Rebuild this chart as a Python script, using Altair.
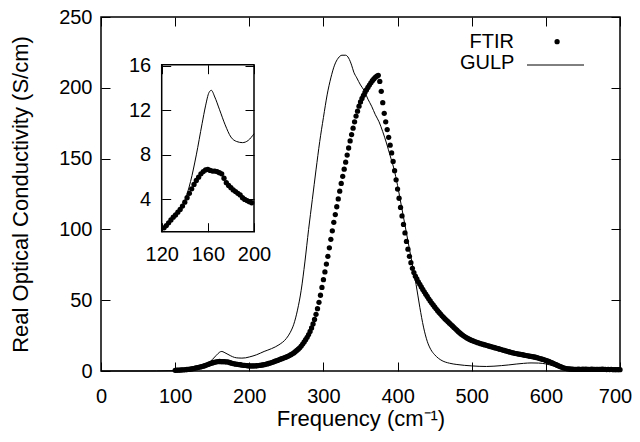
import altair as alt
import pandas as pd

# ---------------- data ----------------
ftir_freq = list(range(100, 702, 2))
ftir_vals = [
    0.5, 0.55, 0.6, 0.65, 0.7, 0.8, 0.85, 0.95, 1.05, 1.15,
    1.25, 1.45, 1.65, 1.9, 2.15, 2.4, 2.6, 2.85, 3.1, 3.4,
    3.75, 4.15, 4.55, 4.95, 5.35, 5.7, 6.0, 6.3, 6.5, 6.65,
    6.7, 6.6, 6.55, 6.55, 6.5, 6.4, 6.3, 5.9, 5.5, 5.25,
    5.05, 4.85, 4.7, 4.55, 4.4, 4.15, 4.0, 3.9, 3.8, 3.7,
    3.6, 3.55, 3.55, 3.55, 3.6, 3.7, 3.8, 3.95, 4.1, 4.3,
    4.5, 4.75, 5.0, 5.3, 5.6, 5.95, 6.3, 6.7, 7.1, 7.5,
    7.9, 8.3, 8.7, 9.1, 9.5, 9.9, 10.4, 10.9, 11.5, 12.1,
    12.8, 13.6, 14.5, 15.4, 16.4, 17.6, 19.0, 20.5, 22.1, 23.8,
    25.7, 27.9, 30.4, 33.2, 36.4, 40.0, 44.0, 48.5, 53.5, 59.0,
    64.5, 70, 75.5, 81, 87, 93, 99, 105, 110.5, 116,
    121.5, 127, 132.5, 137.5, 142.5, 147.5, 152.5, 157.5, 162.5, 167,
    171.5, 176, 180, 183.5, 187, 190, 192.5, 194.7, 196.7, 198.5,
    200.2, 201.9, 203.5, 205, 206.3, 207.4, 208.2, 208.8, 204.5, 197.5,
    189.5, 182, 176, 170.5, 165, 159.5, 154, 148, 141.5, 135,
    128.5, 122, 115.5, 109.5, 103.5, 97.5, 91.5, 86, 81, 76.5,
    72.5, 69.5, 67, 65, 63, 61.2, 59.4, 57.6, 55.9, 54.2,
    52.6, 51, 49.5, 48, 46.6, 45.2, 43.9, 42.6, 41.4, 40.2,
    39.0, 37.9, 36.8, 35.8, 34.8, 33.8, 32.8, 31.8, 30.8, 29.8,
    28.8, 27.8, 26.9, 26.0, 25.2, 24.5, 23.8, 23.2, 22.6, 22.1,
    21.6, 21.2, 20.8, 20.4, 20.0, 19.7, 19.3, 19.0, 18.7, 18.4,
    18.1, 17.8, 17.5, 17.2, 16.9, 16.6, 16.3, 16.0, 15.7, 15.4,
    15.1, 14.8, 14.5, 14.2, 13.9, 13.6, 13.3, 13.0, 12.8, 12.5,
    12.3, 12.1, 11.9, 11.7, 11.5, 11.3, 11.1, 10.9, 10.7, 10.5,
    10.3, 10.1, 9.9, 9.7, 9.4, 9.1, 8.8, 8.5, 8.2, 7.9,
    7.5, 7.1, 6.7, 6.3, 5.9, 5.4, 4.9, 4.4, 3.9, 3.4,
    3.0, 2.6, 2.2, 1.9, 1.7, 1.5, 1.4, 1.3, 1.3, 1.2,
    1.2, 1.2, 1.3, 1.2, 1.2, 1.3, 1.2, 1.3, 1.2, 1.1,
    1.2, 1.3, 1.2, 1.1, 1.2, 1.2, 1.1, 1.2, 1.3, 1.2,
    1.1, 1.0, 1.1, 1.0, 1.1, 1.0, 0.9, 1.0, 0.9, 1.0,
    0.9,
]

gulp_freq = [0, 50, 100, 110, 120, 130, 135, 140, 145, 150,
             155, 158, 161, 163, 166, 170, 175, 180, 185, 190,
             195, 200, 210, 220, 230, 240, 250, 255, 260, 265,
             270, 275, 280, 285, 290, 295, 300, 305, 310, 315,
             320, 325, 330, 334, 338, 341, 345, 350, 355, 360,
             365, 370, 375, 380, 385, 390, 395, 400, 405, 410,
             415, 420, 425, 430, 435, 440, 445, 450, 455, 460,
             470, 480, 490, 500, 510, 520, 530, 540, 550, 560,
             570, 580, 590, 600, 610, 620, 630, 640, 650, 660,
             670, 680, 690, 700]
gulp_vals = [0, 0, 0.3, 0.6, 1.2, 2.3, 3.0, 3.9, 5.6, 8.0,
             10.8, 12.4, 13.6, 13.8, 13.2, 12.1, 10.7, 9.6, 9.2, 9.1,
             9.3, 9.9, 11.5, 13.8, 15.8, 18.5, 23, 27, 33, 43,
             57, 77, 100, 121, 142, 162, 179, 195, 207, 216,
             221, 223, 223, 221, 216, 211, 207, 202, 198, 192,
             187, 181, 176, 169, 161, 152, 143, 131, 117, 103,
             89, 75, 61, 45, 31, 21, 15, 11.5, 9, 7.3,
             5.5, 4.6, 4, 3.6, 3.3, 3.2, 3.4, 3.8, 4.3, 4.9,
             5.4, 5.7, 5.6, 5.0, 3.5, 1.8, 0.6, 0.2, 0.1, 0.1,
             0.1, 0.1, 0.1, 0.1]

x_domain = [0, 700]
y_domain = [0, 250]
x_ticks = [0, 100, 200, 300, 400, 500, 600, 700]
y_ticks = [0, 50, 100, 150, 200, 250]

inset_x_domain = [120, 200]
inset_y_domain = [1.1, 16.1]
inset_x_ticks = [120, 160, 200]
inset_y_ticks = [4, 8, 12, 16]

series_names = ["FTIR", "GULP"]

# ---------------- layout (pixels) ----------------
W, H = 519, 354
TICK = 9
inset_x_range = [60.7, 153.0]
inset_y_range = [214.7, 47.7]
FONT = "Liberation Sans"
FS = 20
TFS = 22
DOT = 28

ftir_df = pd.DataFrame({"f": ftir_freq, "v": ftir_vals, "s": series_names[0]})
gulp_df = pd.DataFrame({"f": gulp_freq, "v": gulp_vals, "s": series_names[1]})
inset_ftir_df = ftir_df[(ftir_df.f > inset_x_domain[0]) & (ftir_df.f < inset_x_domain[1])]
inset_gulp_df = gulp_df[(gulp_df.f >= inset_x_domain[0]) & (gulp_df.f <= inset_x_domain[1])]
frame_df = pd.DataFrame({"x0": [inset_x_domain[0]], "x1": [inset_x_domain[1]],
                         "y0": [inset_y_domain[0]], "y1": [inset_y_domain[1]]})

xs = alt.Scale(domain=x_domain, nice=False, zero=False)
ys = alt.Scale(domain=y_domain, nice=False, zero=False)
ixs = alt.Scale(domain=inset_x_domain, range=inset_x_range, nice=False, zero=False)
iys = alt.Scale(domain=inset_y_domain, range=inset_y_range, nice=False, zero=False)

common = dict(tickSize=TICK, domain=False, grid=False, tickColor="black", tickWidth=1,
              labelFlush=False, labelOverlap=False)

legend_common = dict(orient="none", titleOrient="left", titleAnchor="middle",
                     titleFont=FONT, titleFontSize=FS, titleFontWeight="normal", titleColor="black",
                     labelExpr="''", padding=0)

# main GULP line with bottom/left axes
main_gulp = alt.Chart(gulp_df).mark_line(color="black", strokeWidth=1, interpolate="monotone").encode(
    x=alt.X("f:Q", scale=xs, axis=alt.Axis(orient="bottom", values=x_ticks, offset=-TICK,
                                           labelPadding=15, title="Frequency (cm⁻¹)",
                                           labelOffset={"expr": "datum.value == 700 ? -5 : 0"},
                                           titlePadding=2, **common)),
    y=alt.Y("v:Q", scale=ys, axis=alt.Axis(orient="left", values=y_ticks, offset=-TICK,
                                           labelPadding=9, title="Real Optical Conductivity (S/cm)",
                                           titlePadding=26, **common)),
    color=alt.Color("s:N", scale=alt.Scale(domain=[series_names[1]], range=["black"]),
                    legend=alt.Legend(title=series_names[1], legendX=359, legendY=19,
                                      titlePadding=11.5, titleBaseline="top",
                                      symbolType="stroke", symbolSize=3249, symbolStrokeWidth=1,
                                      symbolStrokeColor="black", **legend_common)),
)

# main FTIR dots with mirrored top/right ticks
main_ftir = alt.Chart(ftir_df).mark_point(filled=True, size=DOT, color="black", opacity=1).encode(
    x=alt.X("f:Q", scale=xs, axis=alt.Axis(orient="top", values=x_ticks, offset=-TICK,
                                           labels=False, title=None, **common)),
    y=alt.Y("v:Q", scale=ys, axis=alt.Axis(orient="right", values=y_ticks, offset=-TICK,
                                           labels=False, title=None, **common)),
    shape=alt.Shape("s:N", scale=alt.Scale(domain=[series_names[0]], range=["circle"]),
                    legend=alt.Legend(title=series_names[0], legendX=368.6, legendY=19.7,
                                      titlePadding=37.5, titleBaseline="middle",
                                      symbolSize=DOT, symbolFillColor="black", symbolStrokeWidth=0,
                                      **legend_common)),
)

# inset frame with inset bottom/left axes
inset_frame = alt.Chart(frame_df).mark_rect(fill="white", stroke="black", strokeWidth=1.5).encode(
    x=alt.X("x0:Q", scale=ixs, axis=alt.Axis(orient="bottom", values=inset_x_ticks,
                                             offset=-(H - inset_y_range[0]) - TICK,
                                             labelPadding=13, title=None, zindex=1, **common)),
    x2="x1:Q",
    y=alt.Y("y0:Q", scale=iys, axis=alt.Axis(orient="left", values=inset_y_ticks,
                                             offset=-inset_x_range[0] - TICK,
                                             labelPadding=11, title=None, zindex=1, **common)),
    y2="y1:Q",
)

inset_gulp = alt.Chart(inset_gulp_df).mark_line(color="black", strokeWidth=1, interpolate="monotone").encode(
    x=alt.X("f:Q", scale=ixs, axis=alt.Axis(orient="top", values=inset_x_ticks,
                                            offset=-inset_y_range[1] - TICK,
                                            labels=False, title=None, zindex=1, **common)),
    y=alt.Y("v:Q", scale=iys, axis=alt.Axis(orient="right", values=inset_y_ticks,
                                            offset=-(W - inset_x_range[1]) - TICK,
                                            labels=False, title=None, zindex=1, **common)),
)

inset_ftir = alt.Chart(inset_ftir_df).mark_point(filled=True, size=DOT, color="black", opacity=1).encode(
    x=alt.X("f:Q", scale=ixs, axis=None),
    y=alt.Y("v:Q", scale=iys, axis=None),
)

chart = alt.layer(main_gulp, main_ftir, inset_frame, inset_gulp, inset_ftir).resolve_scale(
    x="independent", y="independent", color="independent", shape="independent"
).properties(
    width=W, height=H,
    padding={"left": 93, "top": 9, "right": 12, "bottom": 63},
    autosize=alt.AutoSizeParams(type="none"),
    background="white",
).configure_view(
    stroke="black", strokeWidth=1.5
).configure_axis(
    labelFont=FONT, labelFontSize=FS, labelColor="black",
    titleFont=FONT, titleFontSize=TFS, titleFontWeight="normal", titleColor="black",
)

chart.save("out.html", embed_options={"renderer": "svg", "actions": False})
